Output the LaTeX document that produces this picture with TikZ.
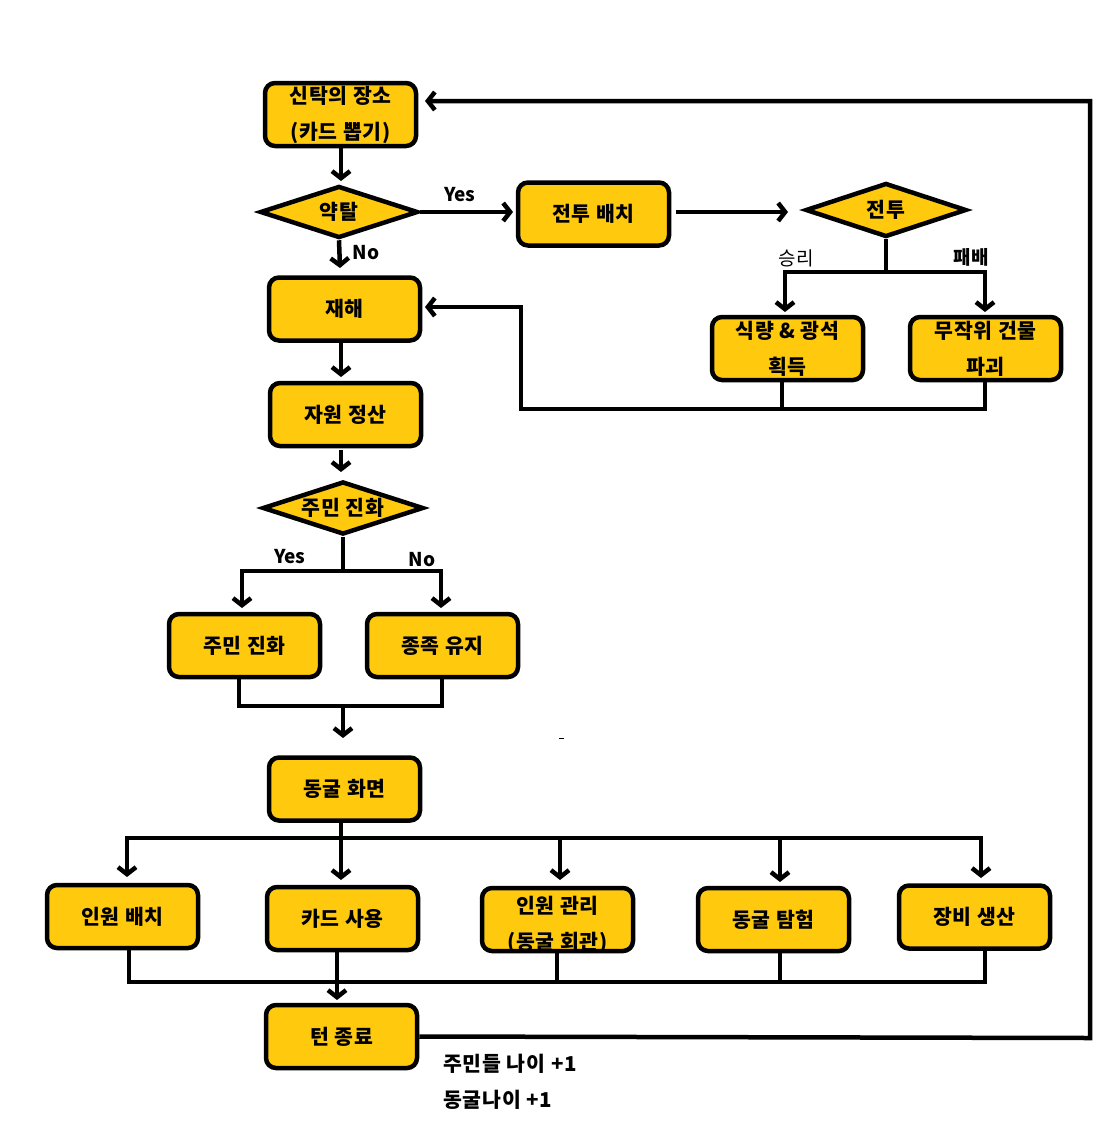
\documentclass[tikz,border=0pt]{standalone}
\usepackage{fontspec}
\newfontfamily\kr{Noto Sans CJK KR}
\newfontfamily\krwide{Noto Sans CJK KR}[LetterSpace=4]
\usetikzlibrary{arrows.meta,shapes.geometric}
\definecolor{gold}{HTML}{FFC90E}
\begin{document}
\begin{tikzpicture}[x=1pt,y=-1pt,
  line width=4.5pt,
  box/.style={draw, fill=gold, rounded corners=10pt, minimum width=151pt,
    minimum height=63pt, inner sep=0pt, align=center,
    font=\krwide\bfseries\fontsize{20.5}{36}\selectfont},
  boxtext/.style={inner sep=0pt, align=center,
    font=\krwide\bfseries\fontsize{20.5}{36}\selectfont},
  dia/.style={draw, fill=gold, diamond, aspect=3, inner sep=0pt,
    font=\krwide\bfseries\fontsize{20.5}{24}\selectfont},
  lbl/.style={font=\kr\bfseries\fontsize{19}{22}\selectfont, inner sep=0pt},
  note/.style={anchor=west, inner sep=0pt,
    font=\krwide\bfseries\fontsize{20.5}{24}\selectfont},
  arr/.style={-{Straight Barb[length=7pt,width=18pt]}},
]
\useasboundingbox (0,0) rectangle (1115,1141);

% upper flow
\node[box] (A) at (340.5,114.5) {신탁의 장소\\(카드 뽑기)};
\node[dia, minimum width=158pt, minimum height=52pt] (D1) at (339,212) {약탈};
\node[box] (B) at (593.5,214) {전투 배치};
\node[dia, minimum width=161pt, minimum height=54pt] (D2) at (886,210) {전투};
\node[box] (C1) at (787.5,348.5) {식량 \& 광석\\획득};
\node[box] (C2) at (985.5,348.5) {무작위 건물\\파괴};
\node[box] (E) at (344.5,309) {재해};
\node[box] (F) at (345.5,414.5) {자원 정산};
\node[dia, minimum width=161pt, minimum height=53pt] (D3) at (343,508) {주민 진화};
\node[box] (G1) at (244.5,645.5) {주민 진화};
\node[box] (G2) at (442.5,645.5) {종족 유지};
\node[box] (H) at (344.5,789) {동굴 화면};

% action row
\node[box] (R1) at (122.5,916.5) {인원 배치};
\node[box] (R2) at (342.5,918.5) {카드 사용};
\node[box] (R3) at (557.5,919.5) {};
\node[boxtext] (R3t) at (557.5,925) {인원 관리\\(동굴 회관)};
\node[box] (R4) at (773.5,919.5) {동굴 탐험};
\node[box] (R5) at (974.5,917) {장비 생산};
\node[box] (T) at (341.5,1036.5) {턴 종료};

% junction points
\coordinate (j1) at (886,272);
\coordinate (j2) at (521,409);
\coordinate (j3) at (343,571);
\coordinate (j4) at (343,706);
\coordinate (j5) at (341,838);
\coordinate (j6) at (337,982);
\coordinate (j7) at (1090,1038);

% connectors
\draw[arr] (A.south -| 341,0) -- (341,181);
\draw[arr] (D1.east) -- (513,212);
\draw[arr] (676,212) -- (788,212);
\draw (D2.south) -- (j1);
\draw[arr] (j1) -| (785,312);
\draw[arr] (j1) -| (985,312);
\draw (782,380) -- (782,409);
\draw[arr] (985,380) |- (j2) |- (425,307);
\draw[arr] (D1.south) -- (340,268);
\draw[arr] (341,340) -- (341,377);
\draw[arr] (341,450) -- (341,472);
\draw (D3.south) -- (j3);
\draw[arr] (j3) -| (242,608);
\draw[arr] (j3) -| (441,608);
\draw (239,677) |- (j4);
\draw (442,677) |- (j4);
\draw[arr] (j4) -- (343,738);
\draw (341,820) -- (j5);
\draw[arr] (j5) -| (127,877);
\draw[arr] (j5) -- (341,880);
\draw[arr] (j5) -| (560,880);
\draw[arr] (j5) -| (780,882);
\draw[arr] (j5) -| (981,878);
\draw (129,948) |- (j6);
\draw (557,951) -- (557,982);
\draw (780,951) -- (780,982);
\draw (985,948) |- (j6);
\draw[arr] (337,950) -- (337,1000);
\draw[arr] (T.east) -- (j7) |- (425,101);

% labels
\node[lbl] (yes1) at (460,195) {Yes};
\node[lbl] (no1) at (366,253) {No};
\node[lbl, font=\kr\fontsize{19}{22}\selectfont] (win) at (796,258) {승리};
\node[lbl] (lose) at (971,257) {패배};
\node[lbl] (yes2) at (290,557) {Yes};
\node[lbl] (no2) at (422,560) {No};
\node[note] (age1) at (441,1064) {주민들 나이 +1};
\node[note] (age2) at (441,1100) {동굴나이 +1};

% small stroke
\draw[line width=1pt] (559,738) -- (564,738);
\end{tikzpicture}
\end{document}
